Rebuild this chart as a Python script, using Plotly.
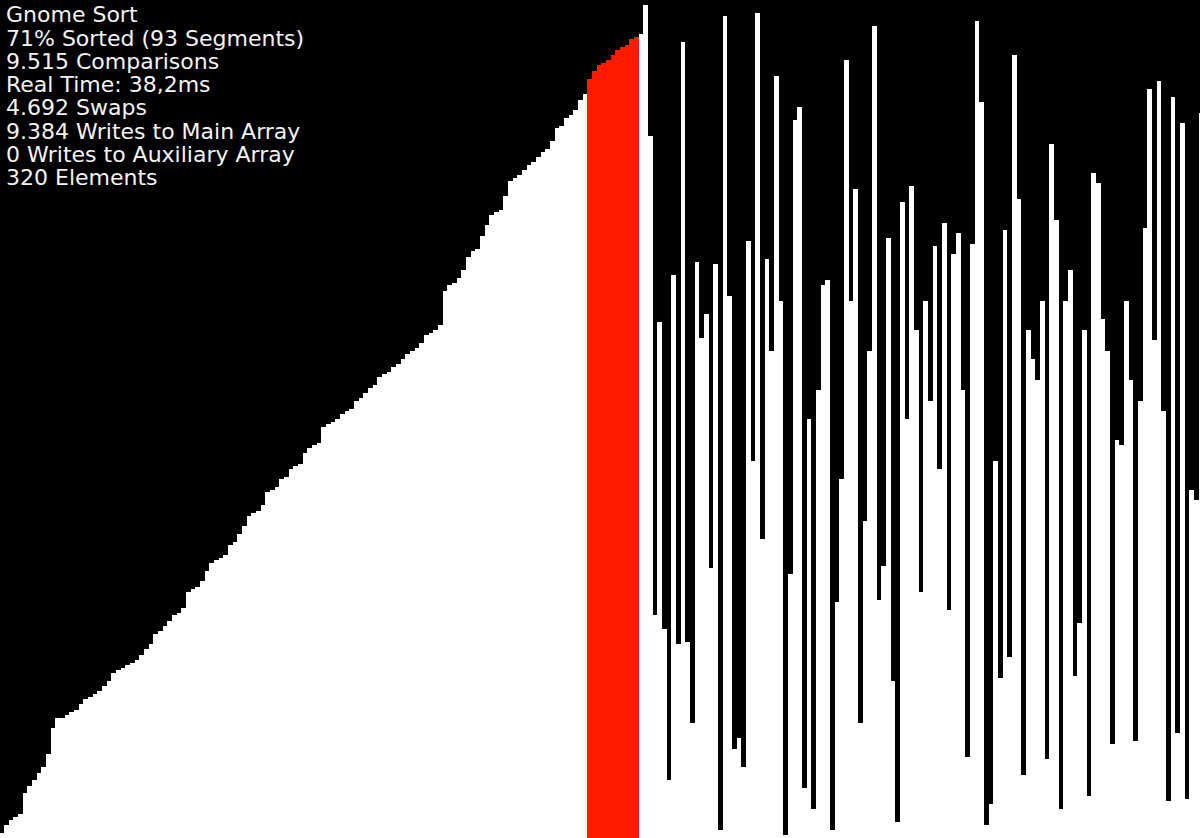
import plotly.graph_objects as go

# Element values (0..320 scale)
sorted_vals = [2, 5, 7, 8, 9, 17, 20, 22, 25, 27, 32, 42, 46, 46, 47, 48, 49, 51, 53, 54,
               55, 56, 58, 60, 63, 64, 65, 66, 67, 68, 70, 72, 74, 78, 79, 81, 83, 85, 86, 88,
               94, 95, 96, 98, 102, 105, 106, 107, 108, 112, 113, 116, 119, 123, 124, 125, 127, 132, 133, 134,
               137, 138, 141, 142, 143, 147, 149, 150, 151, 157, 158, 159, 160, 162, 163, 164, 167, 168, 170, 172,
               173, 176, 177, 178, 180, 181, 183, 185, 186, 187, 189, 192, 193, 194, 196, 209, 211, 212, 214, 217,
               222, 224, 225, 230, 234, 238, 239, 240, 245, 251, 252, 253, 255, 257, 258, 260, 262, 263, 266, 271,
               272, 275, 276, 278, 282, 284]
marked_vals = [290, 293, 295, 296, 297, 299, 301, 302, 303, 305, 306]
unsorted_vals = [307, 318, 268, 85, 197, 80, 22, 215, 74, 304, 75, 44, 220, 191, 200, 103, 219, 3, 314, 207,
                 34, 38, 27, 228, 144, 315, 114, 221, 186, 291, 205, 1, 101, 274, 279, 19, 160, 11, 171, 211,
                 213, 3, 90, 137, 297, 205, 248, 44, 121, 186, 310, 91, 104, 229, 60, 6, 243, 160, 249, 194,
                 94, 205, 167, 226, 141, 235, 87, 223, 231, 171, 31, 227, 312, 281, 5, 13, 144, 61, 232, 69,
                 299, 244, 24, 194, 183, 175, 205, 30, 265, 236, 11, 205, 217, 62, 82, 194, 16, 254, 250, 198,
                 186, 36, 152, 150, 205, 175, 37, 167, 233, 286, 190, 289, 163, 14, 283, 40, 273, 15, 133, 129,
                 277]

stats_lines = ["Gnome Sort", "71% Sorted (93 Segments)", "9.515 Comparisons", "Real Time: 38,2ms",
               "4.692 Swaps", "9.384 Writes to Main Array", "0 Writes to Auxiliary Array", "320 Elements"]

values = sorted_vals + marked_vals + unsorted_vals
positions = list(range(len(values)))
colors = (["#ffffff"] * len(sorted_vals) + ["#ff1a00"] * len(marked_vals)
          + ["#ffffff"] * len(unsorted_vals))

fig = go.Figure(go.Bar(x=positions, y=values, width=1.0,
                       marker=dict(color=colors, line=dict(width=0)),
                       hoverinfo="skip"))

W, H = 1200, 838
fs = 22
annotations = []
for k, line in enumerate(stats_lines):
    baseline = 22.7 + 23.3 * k
    yc = baseline - 0.36 * fs
    annotations.append(dict(text=line, x=4 / W, y=1 - yc / H, xref="paper", yref="paper",
                            xanchor="left", yanchor="middle", showarrow=False,
                            font=dict(family="DejaVu Sans", size=fs, color="#f4f4f4")))

fig.update_layout(
    width=W, height=H, margin=dict(l=0, r=0, t=0, b=0),
    paper_bgcolor="#000000", plot_bgcolor="#000000",
    bargap=0, showlegend=False,
    xaxis=dict(range=[-0.357, 256.78], visible=False, fixedrange=True),
    yaxis=dict(range=[0, 320], visible=False, fixedrange=True),
    annotations=annotations,
)

fig.write_html("out.html", config={"displayModeBar": False},
               post_script="document.body.style.margin='0';document.body.style.overflow='hidden';")
